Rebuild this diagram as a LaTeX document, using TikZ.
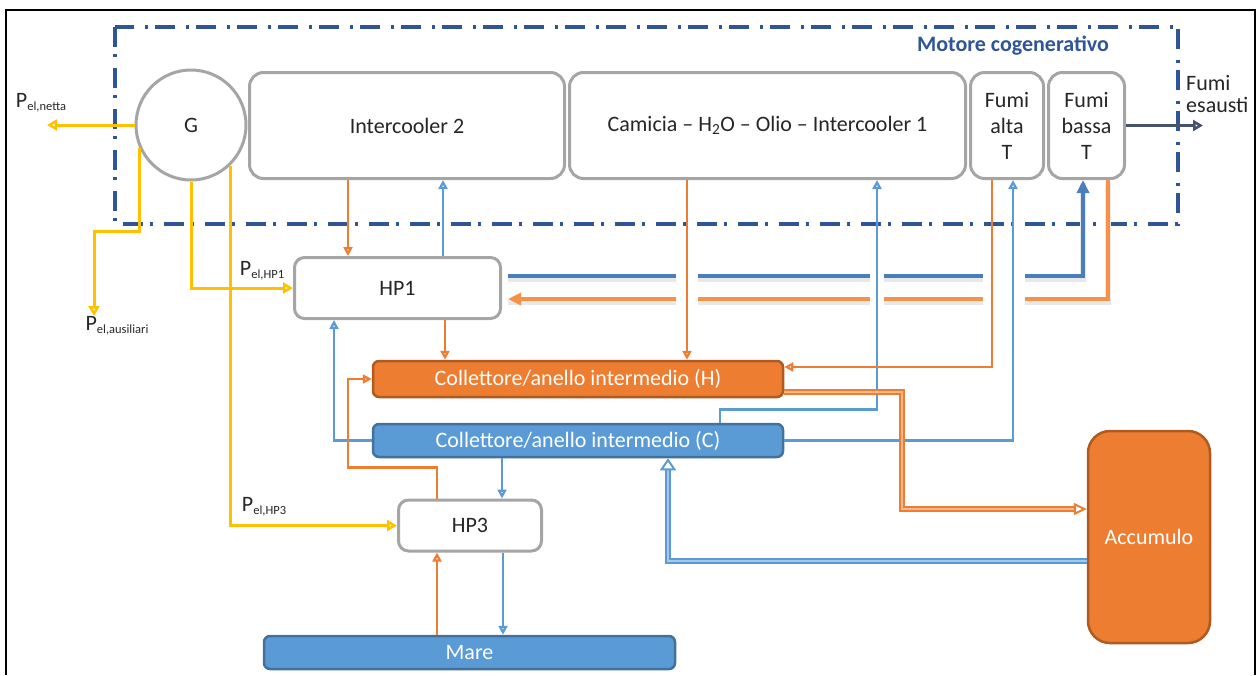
\documentclass[tikz,border=0pt]{standalone}
\usepackage{fontspec}
\setmainfont{Carlito}
\usetikzlibrary{arrows.meta}

\definecolor{boxgray}{HTML}{A5A5A5}
\definecolor{ora}{HTML}{ED7D31}
\definecolor{oradark}{HTML}{AE5A21}
\definecolor{oralight}{HTML}{F4924A}
\definecolor{blu}{HTML}{5B9BD5}
\definecolor{bludark}{HTML}{41719C}
\definecolor{blumid}{HTML}{4A7EBB}
\definecolor{giallo}{HTML}{FFC000}
\definecolor{navy}{HTML}{2F5597}
\definecolor{fumo}{HTML}{44546A}
\definecolor{txt}{HTML}{262626}

\newcommand{\mainsize}{\fontsize{22}{26}\selectfont}
\newcommand{\Pel}[1]{P\raisebox{-0.15em}{\fontsize{12.5}{14}\selectfont el,#1}}

\begin{document}
\begin{tikzpicture}[x=1pt, y=-1pt,
  box/.style={draw=boxgray, line width=3pt, rounded corners=14pt, fill=white,
    text=txt, font=\mainsize, align=center, inner sep=0pt},
  gen/.style={circle, draw=boxgray, line width=3pt, fill=white, text=txt,
    font=\mainsize, minimum size=110pt, inner sep=0pt},
  coll/.style={line width=2.5pt, rounded corners=6pt, text=white,
    font=\mainsize, inner sep=0pt},
  lbl/.style={text=txt, font=\mainsize, inner sep=0pt},
  pel/.style={draw=giallo, line width=3pt, -{Triangle[open,length=10pt,width=11pt]}},
  cb/.style={draw=blu, line width=2.6pt, -{Triangle[open,length=9pt,width=9pt]}},
  co/.style={draw=ora, line width=2.6pt, -{Triangle[open,length=9pt,width=9pt]}},
  cbd/.style={draw=blu, double=blu!55!white, double distance=1.6pt, line width=2pt,
    -{Triangle[open,length=12pt,width=16pt]}},
  cod/.style={draw=ora, double=ora!55!white, double distance=1.6pt, line width=2pt,
    -{Triangle[open,length=13pt,width=12pt]}},
  shad/.style={preaction={draw=black!9, line width=6pt, -, transform canvas={yshift=-3pt}}},
  bthick/.style={draw=blumid, line width=4.2pt, -{Triangle[length=13pt,width=12pt]}},
  othick/.style={draw=oralight, line width=4.2pt, -{Triangle[length=13pt,width=12pt]}},
  jumpgap/.style={fill=white},
  motbox/.style={draw=navy, line width=3.2pt, dash pattern=on 20pt off 7pt on 3pt off 11pt}]

\useasboundingbox (0,0) rectangle (1258,675);
\draw[line width=2pt] (6,675) -- (6,10) -- (1255,10) -- (1255,675);

% motore cogenerativo
\draw[motbox] (115,27) rectangle (1178,224);
\node[font=\mainsize\bfseries, text=navy] (mot) at (1013,46) {Motore cogenerativo};

\node[gen] (G) at (191,125) {G};
\node[box, minimum width=315pt, minimum height=106pt] (IC2) at (407,125.5) {Intercooler 2};
\node[box, minimum width=396pt, minimum height=106pt] (Cam) at (767.5,125.5)
  {Camicia -- H\textsubscript{2}O -- Olio -- Intercooler 1};
\node[box, minimum width=73pt, minimum height=106pt] (FA) at (1007,125.5) {Fumi\\alta\\T};
\node[box, minimum width=76pt, minimum height=106pt] (FB) at (1086.5,125.5) {Fumi\\bassa\\T};

% pompe di calore
\node[box, rounded corners=10pt, minimum width=206pt, minimum height=61pt] (HP1) at (397.5,288) {HP1};
\node[box, rounded corners=10pt, minimum width=143pt, minimum height=51pt] (HP3) at (470,525.5) {HP3};

% collettori, mare, accumulo
\node[coll, draw=oradark, fill=ora, minimum width=410pt, minimum height=36pt] (CH) at (578,379)
  {Collettore/anello intermedio (H)};
\node[coll, draw=bludark, fill=blu, minimum width=410pt, minimum height=33pt] (CC) at (578,440.5)
  {Collettore/anello intermedio (C)};
\node[coll, draw=bludark, fill=blu, minimum width=411pt, minimum height=33pt] (Mare) at (469.5,652.5) {Mare};
\node[coll, draw=oradark, fill=ora, rounded corners=22pt, minimum width=122pt, minimum height=212pt] (Acc)
  at (1149,537) {Accumulo};

% etichette
\node[lbl] (netta) at (41,103) {\Pel{netta}};
\node[lbl] (ausil) at (117,326) {\Pel{ausiliari}};
\node[lbl] (php1) at (262,271) {\Pel{HP1}};
\node[lbl] (php3) at (264,507) {\Pel{HP3}};
\node[lbl, align=left, anchor=west, font=\fontsize{22}{22}\selectfont] (esausti) at (1186,94) {Fumi\\esausti};

\coordinate (nettaend) at (47,125);
\coordinate (auxend) at (94,316);
\coordinate (fumiend) at (1203,125.5);

% potenza elettrica
\draw[pel] (G.west) -- (nettaend);
\draw[pel] (G.204) -- ++(0,84) -| (auxend);
\draw[pel] (G.south) |- (HP1.west);
\draw[pel] (G.314) |- (HP3.west);

% fumi
\draw[draw=fumo, line width=3pt, -{Triangle[open,length=10pt,width=11pt]}] (FB.east) -- (fumiend);

% HP1 <-> fumi bassa T
\draw[bthick, shad] ([xshift=6pt,yshift=12pt]HP1.east) -| ([xshift=-3.5pt]FB.south);
\draw[othick, shad] ([xshift=21.5pt]FB.south) |- ([xshift=6pt,yshift=-11pt]HP1.east);
\fill[jumpgap] (676,264) rectangle (698,310);
\fill[jumpgap] (870,264) rectangle (884,310);
\fill[jumpgap] (983,264) rectangle (1025,310);

% intercooler 2 / HP1
\draw[co] ([xshift=-59pt]IC2.south) -- ([xshift=-59pt]IC2.south |- HP1.north);
\draw[cb] ([xshift=45.5pt]HP1.north) -- ([xshift=45.5pt]HP1.north |- IC2.south);
\draw[co] ([xshift=47.5pt]HP1.south) -- ([xshift=47.5pt]HP1.south |- CH.north);
\draw[cb] (CC.west) -| ([xshift=-63.5pt]HP1.south);

% camicia / fumi alta T
\draw[co] ([xshift=-80.5pt]Cam.south) -- ([xshift=-80.5pt]Cam.south |- CH.north);
\draw[cb] ([xshift=142pt]CC.north) -- ++(0,-13) -| ([xshift=109.5pt]Cam.south);
\draw[cb] (CC.east) -| ([xshift=6pt]FA.south);
\draw[co] ([xshift=-15pt]FA.south) |- ([yshift=12pt]CH.east);

% HP3 e mare
\draw[co] ([xshift=-33pt]HP3.north) -- ++(0,-31) -- ++(-89,0) |- (CH.west);
\draw[cb] ([xshift=32pt]HP3.north |- CC.south) -- ([xshift=32pt]HP3.north);
\draw[cb] ([xshift=33pt]HP3.south) -- ([xshift=33pt]HP3.south |- Mare.north);
\draw[co] ([xshift=-33pt]HP3.south |- Mare.north) -- ([xshift=-33pt]HP3.south);

% accumulo
\draw[cbd] ([yshift=-24pt]Acc.west) -| ([xshift=90pt]CC.south);
\draw[cod] ([yshift=-13pt]CH.east) -- ++(118,0) |- ([yshift=28pt]Acc.west);
\end{tikzpicture}
\end{document}
